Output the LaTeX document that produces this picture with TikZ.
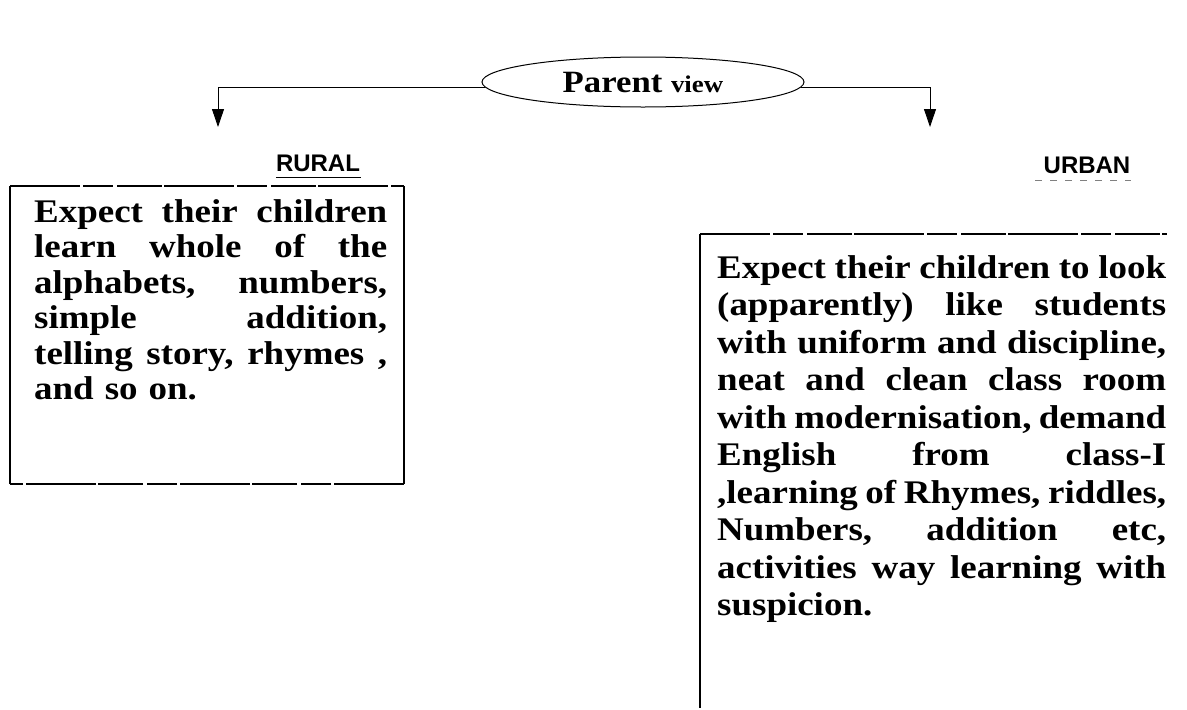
\documentclass[tikz,border=0pt]{standalone}
\usepackage{fontspec}
\usetikzlibrary{arrows.meta,shapes.geometric}
\newfontfamily\bodyfont{Liberation Serif}[FakeStretch=1.12]
\newfontfamily\headfont{Liberation Sans}
% one justified line, stretched to the full text width
\newcommand\jline[1]{\hbox to \hsize{#1}\par}
\tikzset{
  frame/.style={line width=1.3pt},
  brokenframe/.style={line width=1.1pt, dash pattern=on 70pt off 3pt on 30pt off 4pt on 45pt off 2pt},
  link/.style={line width=0.9pt},
  linkarrow/.style={link, -{Triangle[length=18pt,width=12pt]}},
  oval/.style={ellipse, draw, line width=1pt, minimum width=322pt, minimum height=50pt, inner sep=0pt},
  heading/.style={font=\headfont\bfseries\fontsize{24}{26}\selectfont, inner sep=0pt},
  bodytext/.style={font=\bodyfont\bfseries\fontsize{33}{35.5}\selectfont, align=left, inner sep=0pt}
}
\begin{document}
\begin{tikzpicture}[x=1pt,y=-1pt]
\useasboundingbox[fill=white] (0,0) rectangle (1187,710);

% central oval
\node[oval] (parent) at (643,82) {\bodyfont\bfseries\fontsize{31}{33}\selectfont Parent \fontsize{24}{26}\selectfont view};

% connectors to both sides
\coordinate (ltip) at (218,127);
\coordinate (rtip) at (930,127);
\draw[linkarrow] (parent.182) -| (ltip);
\draw[linkarrow] (parent.-2) -| (rtip);

% headings
\node[heading] (rural) at (318,163) {RURAL};
\draw[line width=1pt] ([yshift=-6pt]rural.south west) -- ([xshift=1pt,yshift=-6pt]rural.south east);
\node[heading] (urban) at (1087,165) {URBAN};
\draw[line width=0.8pt, gray, dash pattern=on 7pt off 8pt] ([xshift=-8pt,yshift=-7pt]urban.south west) -- ([yshift=-7pt]urban.south east);

% rural box
\coordinate (rnw) at (10,186);
\coordinate (rse) at (404,484);
\draw[brokenframe] (rnw) -- (rnw -| rse);
\draw[frame] (rnw -| rse) -- (rse);
\draw[brokenframe] (rse) -- (rse -| rnw);
\draw[frame] (rse -| rnw) -- (rnw);
\node[bodytext, text width=353pt, anchor=north west] (ruraltext) at (34,199) {%
\jline{Expect\hfil their\hfil children}
\jline{learn\hfil whole\hfil of\hfil the}
\jline{alphabets,\hfil numbers,}
\jline{simple\hfil addition,}
\jline{telling\hfil story,\hfil rhymes\hfil ,}
and so on.};

% urban box (open at the right and bottom)
\coordinate (unw) at (700,234);
\coordinate (une) at (1167,234);
\coordinate (usw) at (700,708);
\draw[brokenframe] (unw) -- (une);
\draw[frame] (unw) -- (usw);
\node[bodytext, text width=449pt, anchor=north west, font=\bodyfont\bfseries\fontsize{33}{37.5}\selectfont] (urbantext) at (717,255) {%
\jline{Expect\hfil their\hfil children\hfil to\hfil look}
\jline{(apparently)\hfil like\hfil students}
\jline{with\hfil uniform\hfil and\hfil discipline,}
\jline{neat\hfil and\hfil clean\hfil class\hfil room}
\jline{with\hfil modernisation,\hfil demand}
\jline{English\hfil from\hfil class-I}
\jline{,learning\hfil of\hfil Rhymes,\hfil riddles,}
\jline{Numbers,\hfil addition\hfil etc,}
\jline{activities\hfil way\hfil learning\hfil with}
suspicion.};
\end{tikzpicture}
\end{document}
